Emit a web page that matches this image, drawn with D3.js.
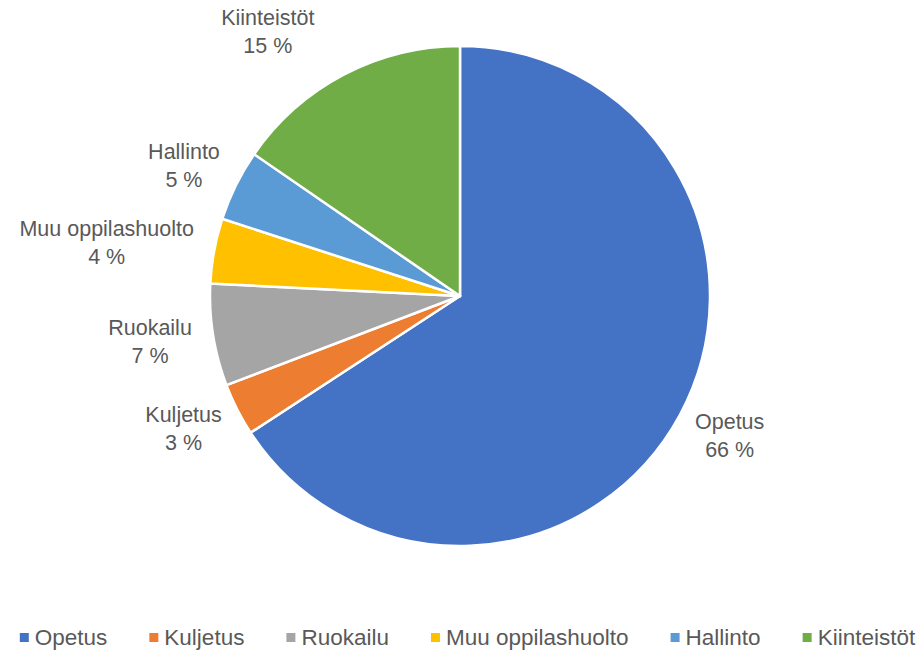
<!DOCTYPE html>
<html>
<head>
<meta charset="utf-8">
<script src="https://cdn.jsdelivr.net/npm/d3@7"></script>
<style>
  body { margin: 0; background: #fff; }
  svg text { font-family: "Liberation Sans", Arial, sans-serif; fill: #595959; }
</style>
</head>
<body>
<div id="chart"></div>
<script>
var categories = ["Opetus", "Kuljetus", "Ruokailu", "Muu oppilashuolto", "Hallinto", "Kiinteistöt"];
var values = [65.8, 3.4, 6.6, 4.2, 4.6, 15.4];
var colors = ["#4472C4", "#ED7D31", "#A5A5A5", "#FFC000", "#5B9BD5", "#70AD47"];

function drawPie() {
    var width = 923, height = 651,
        cx = 460, cy = 296, radius = 250;

    var svg = d3.select("#chart").append("svg")
        .attr("width", width)
        .attr("height", height);

    var data = categories.map(function(c, i) { return {name: c, value: values[i], color: colors[i]}; });

    var pie = d3.pie().sort(null).value(function(d) { return d.value; });
    var arc = d3.arc().innerRadius(0).outerRadius(radius);

    var g = svg.append("g")
        .attr("transform", "translate(" + cx + "," + cy + ")");

    var arcs = pie(data);

    g.selectAll("path")
        .data(arcs)
        .enter().append("path")
        .attr("d", arc)
        .attr("fill", function(d) { return d.data.color; })
        .attr("stroke", "#fff")
        .attr("stroke-width", 2.5)
        .attr("stroke-linejoin", "round");

    // labels, placed outside the edge like Excel's outside end
    var R = 272, lineH = 28;
    var labels = g.selectAll("g.lbl")
        .data(arcs)
        .enter().append("g")
        .attr("class", "lbl");

    labels.each(function(d) {
        var el = d3.select(this);
        var t = el.append("text")
            .attr("text-anchor", "middle")
            .style("font-size", "21.5px");
        t.append("tspan").attr("x", 0).attr("y", -lineH / 2 + 7).text(d.data.name);
        t.append("tspan").attr("x", 0).attr("y", lineH / 2 + 7).text(Math.round(d.data.value) + " %");
        var w = this.getBBox().width, h = 44;
        var a = (d.startAngle + d.endAngle) / 2;
        var dx = Math.sin(a), dy = -Math.cos(a);
        var x = R * dx + dx * w / 2, y = R * dy + dy * h / 2;
        // Excel shifts the top label away to the left
        if (d.data.name == "Kiinteistöt") { x -= 44; y -= 4; }
        el.attr("transform", "translate(" + x + "," + y + ")");
    });

    // legend
    var legend = svg.append("g").attr("class", "legend");
    var items = legend.selectAll("g")
        .data(data)
        .enter().append("g");
    items.append("rect")
        .attr("width", 9).attr("height", 9)
        .attr("y", -12)
        .attr("fill", function(d) { return d.color; });
    items.append("text")
        .attr("x", 15)
        .attr("y", 0)
        .style("font-size", "22.5px")
        .text(function(d) { return d.name; });

    var xPos = 0, gap = 42;
    items.each(function(d) {
        var w = d3.select(this).select("text").node().getComputedTextLength() + 15;
        d.lx = xPos;
        xPos += w + gap;
    });
    var total = xPos - gap;
    var start = (width - total) / 2 + 6;
    items.attr("transform", function(d) { return "translate(" + (start + d.lx) + ",645)"; });
}
drawPie();
</script>
</body>
</html>
